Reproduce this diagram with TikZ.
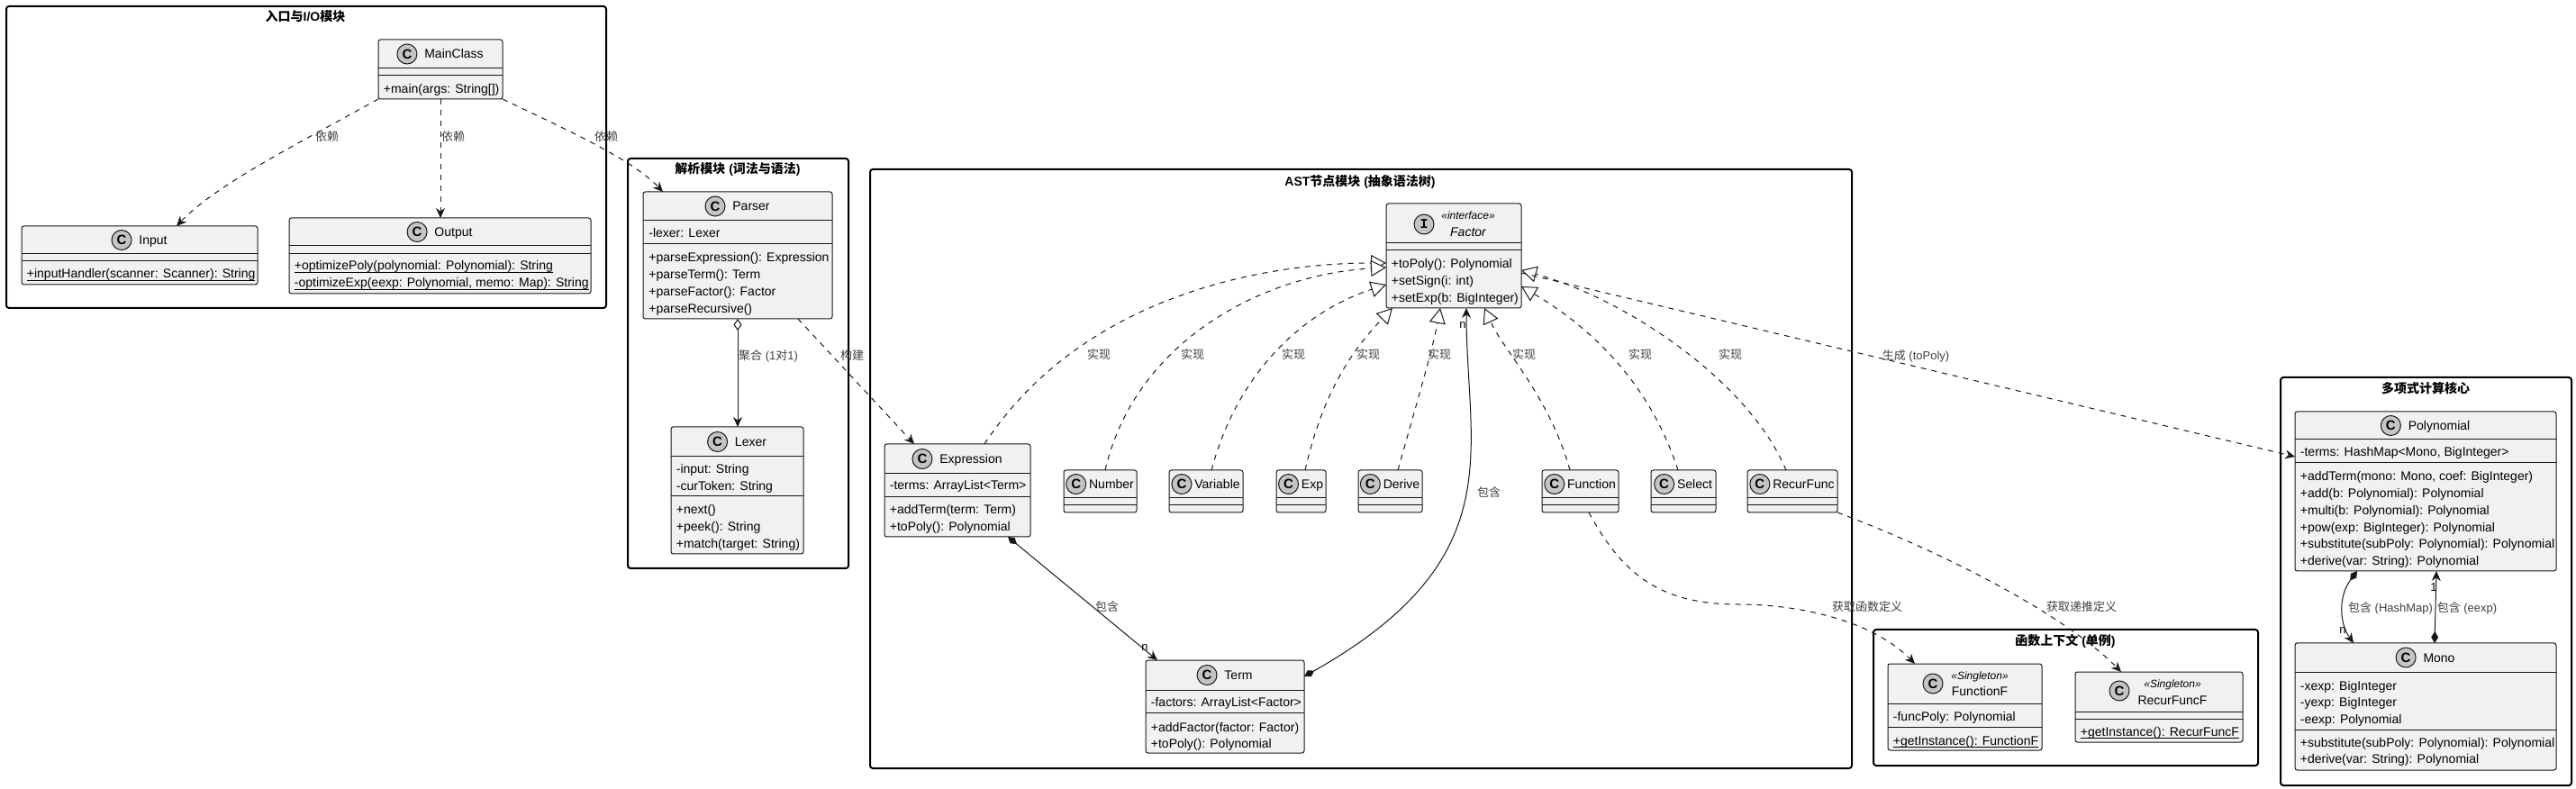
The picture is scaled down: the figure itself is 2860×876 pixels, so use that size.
\documentclass[tikz,border=0pt]{standalone}
\usepackage{fontspec}
\setmainfont{Liberation Sans}
\newfontfamily\cjk{Noto Sans CJK SC}
\newfontfamily\monof{Liberation Mono}
\usetikzlibrary{arrows.meta,calc}
\definecolor{boxfill}{HTML}{F1F1F1}
\definecolor{boxline}{HTML}{181818}
\definecolor{iconfill}{HTML}{C4C4C4}
\definecolor{lblcol}{HTML}{404040}
\newcommand\zhs[1]{{\cjk #1}}
\newcommand\zhb[1]{{\cjk\bfseries #1}}
\newcommand\ulst[1]{\underline{\smash{#1}}}
\tikzset{
 classbox/.style={rectangle, draw=boxline, fill=boxfill, line width=0.5pt, rounded corners=1.25pt, inner sep=0pt, outer sep=0pt},
 sepline/.style={draw=boxline, line width=0.5pt},
 member/.style={anchor=base west, inner sep=0pt, font=\fontsize{7}{9}\selectfont},
 cname/.style={inner sep=0pt, font=\fontsize{7}{9}\selectfont, text height=5pt, text depth=0pt},
 stereo/.style={inner sep=0pt, font=\fontsize{6}{7}\selectfont\itshape, text height=4.3pt, text depth=0pt},
 iconnode/.style={circle, draw=boxline, fill=iconfill, line width=0.5pt, minimum size=11pt, inner sep=0pt, font=\fontsize{7.5}{8}\selectfont\bfseries},
 pkgbox/.style={rectangle, draw=black, line width=1pt, rounded corners=1.5pt, inner sep=0pt, outer sep=0pt},
 ptitle/.style={inner sep=0pt, font=\fontsize{7}{9}\selectfont\bfseries, text height=5pt, text depth=0pt},
 elabel/.style={inner sep=0pt, font=\fontsize{6.5}{8}\selectfont, text=lblcol, text height=4.6pt, text depth=0pt},
 mult/.style={inner sep=0pt, font=\fontsize{6.5}{8}\selectfont, text height=4.6pt, text depth=0pt},
 conn/.style={draw=boxline, line width=0.5pt},
 dashedconn/.style={conn, dash pattern=on 3pt off 3pt},
 deparrow/.style={dashedconn, arrows={-Stealth[length=5.5pt,width=5pt,inset=1.8pt]}},
 realarrow/.style={dashedconn, arrows={-Triangle[open,length=8.5pt,width=9pt,fill=white]}},
 comparrow/.style={conn, arrows={Diamond[length=6.5pt,width=4pt]-Stealth[length=5.5pt,width=5pt,inset=1.8pt]}},
 aggarrow/.style={conn, arrows={Diamond[open,length=6.5pt,width=4.5pt,fill=white]-Stealth[length=5.5pt,width=5pt,inset=1.8pt]}},
}
% id l t r headerbottom sep bottom
\newcommand\umlbox[7]{%
 \node[classbox, minimum width={(#4-#2)*0.5pt}, minimum height={(#7-#3)*0.5pt}] (#1) at ({(#2+#4)/2},{(#3+#7)/2}) {};
 \draw[sepline] (#2,#5) -- (#4,#5);
 \draw[sepline] (#2,#6) -- (#4,#6);
}
% id cx cy text gap letter
\newcommand\umlhead[6]{%
 \node[cname] (#1-name) at ({#2+(22+#5)/2},#3) {#4};
 \node[iconnode] (#1-icon) at ($(#1-name.west)+({-(#5+11)},0)$) {#6};
}
% idprefix x firstbaseline list
\newcommand\members[4]{%
 \foreach \mtext [count=\k] in {#4} {\node[member] (#1\k) at ({#2},{#3+(\k-1)*18.7}) {\mtext};}
}
\newcommand\pkg[5]{%
 \node[pkgbox, minimum width={(#4-#2)*0.5pt}, minimum height={(#5-#3)*0.5pt}] (#1) at ({(#2+#4)/2},{(#3+#5)/2}) {};
}
\begin{document}
\begin{tikzpicture}[x=0.5pt,y=-0.5pt]
\fill[white] (0,0) rectangle (2860,876);
\useasboundingbox (0,0) rectangle (2860,876);

% ---------- packages ----------
\pkg{pkgio}{7}{7}{673}{342}
\node[ptitle] (pkgio-t) at (339,19) {\zhb{入口与}I/O\zhb{模块}};
\pkg{pkgparse}{697}{176}{942}{631}
\node[ptitle] (pkgparse-t) at (819,188) {\zhb{解析模块} (\zhb{词法与语法})};
\pkg{pkgast}{966}{188}{2056}{853}
\node[ptitle] (pkgast-t) at (1510,202) {AST\zhb{节点模块} (\zhb{抽象语法树})};
\pkg{pkgfunc}{2080}{699}{2507}{850}
\node[ptitle] (pkgfunc-t) at (2293,712) {\zhb{函数上下文} (\zhb{单例})};
\pkg{pkgpoly}{2532}{419}{2855}{872}
\node[ptitle] (pkgpoly-t) at (2693,432) {\zhb{多项式计算核心}};

% ---------- IO classes ----------
\umlbox{mainclass}{420}{44}{558}{76}{84}{110}
\umlhead{mainclass}{489}{60}{MainClass}{8}{C}
\members{mainclass-m}{425.5}{104}{{+main(args: String[])}}

\umlbox{input}{24}{251}{286}{282}{290}{316}
\umlhead{input}{155}{266.5}{Input}{8}{C}
\members{input-m}{29.5}{309}{{\ulst{+inputHandler(scanner: Scanner): String}}}

\umlbox{output}{321}{242}{656}{273}{282}{326}
\umlhead{output}{488.5}{257.5}{Output}{8}{C}
\members{output-m}{326.5}{300}{{\ulst{+optimizePoly(polynomial: Polynomial): String}},{\ulst{-optimizeExp(eexp: Polynomial, memo: Map): String}}}

% ---------- parser classes ----------
\umlbox{parser}{714}{213}{924}{245}{271}{354}
\umlhead{parser}{819}{229}{Parser}{8}{C}
\members{parser-a}{720}{264}{{-lexer: Lexer}}
\members{parser-m}{720}{291}{{+parseExpression(): Expression},{+parseTerm(): Term},{+parseFactor(): Factor},{+parseRecursive()}}

\umlbox{lexer}{745}{474}{892}{507}{551}{615}
\umlhead{lexer}{818.5}{490.5}{Lexer}{8}{C}
\members{lexer-a}{750.5}{526}{{-input: String},{-curToken: String}}
\members{lexer-m}{750.5}{571}{{+next()},{+peek(): String},{+match(target: String)}}

% ---------- AST classes ----------
\umlbox{factor}{1539}{226}{1689}{270}{278}{342}
\node[iconnode, font=\fontsize{7.5}{8}\selectfont\monof\bfseries] (factor-icon) at (1581,249) {I};
\node[stereo] (factor-st) at (1630,239) {«interface»};
\node[cname, font=\fontsize{7}{9}\selectfont\itshape] (factor-name) at (1630,258) {Factor};
\members{factor-m}{1544.5}{298}{{+toPoly(): Polynomial},{+setSign(i: int)},{+setExp(b: BigInteger)}}

\umlbox{expression}{982}{493}{1144}{526}{552}{596}
\umlhead{expression}{1063}{509.5}{Expression}{8}{C}
\members{expression-a}{987.5}{544}{{-terms: ArrayList<Term>}}
\members{expression-m}{987.5}{571}{{+addTerm(term: Term)},{+toPoly(): Polynomial}}

\umlbox{number}{1181}{522}{1262}{553}{561}{569}
\umlhead{number}{1221.5}{537.5}{Number}{3}{C}
\umlbox{variable}{1298}{522}{1380}{553}{561}{569}
\umlhead{variable}{1339}{537.5}{Variable}{3}{C}
\umlbox{exp}{1417}{522}{1472}{553}{561}{569}
\umlhead{exp}{1444.5}{537.5}{Exp}{3}{C}
\umlbox{derive}{1508}{522}{1579}{553}{561}{569}
\umlhead{derive}{1543.5}{537.5}{Derive}{3}{C}
\umlbox{function}{1712}{522}{1797}{553}{561}{569}
\umlhead{function}{1754.5}{537.5}{Function}{3}{C}
\umlbox{select}{1833}{522}{1905}{553}{561}{569}
\umlhead{select}{1869}{537.5}{Select}{3}{C}
\umlbox{recurfunc}{1940}{522}{2040}{553}{561}{569}
\umlhead{recurfunc}{1990}{537.5}{RecurFunc}{3}{C}

\umlbox{term}{1272}{733}{1448}{766}{791}{836}
\umlhead{term}{1360}{749.5}{Term}{8}{C}
\members{term-a}{1277.5}{784}{{-factors: ArrayList<Factor>}}
\members{term-m}{1277.5}{812}{{+addFactor(factor: Factor)},{+toPoly(): Polynomial}}

% ---------- singletons ----------
\umlbox{functionf}{2096}{737}{2267}{781}{807}{833}
\node[iconnode] (functionf-icon) at (2146,759) {C};
\node[stereo] (functionf-st) at (2198,750) {«Singleton»};
\node[cname] (functionf-name) at (2198,767) {FunctionF};
\members{functionf-a}{2101.5}{800}{{-funcPoly: Polynomial}}
\members{functionf-m}{2101.5}{827}{{\ulst{+getInstance(): FunctionF}}}

\umlbox{recurfuncf}{2304}{746}{2490}{790}{798}{824}
\node[iconnode] (recurfuncf-icon) at (2353,767) {C};
\node[stereo] (recurfuncf-st) at (2412,759) {«Singleton»};
\node[cname] (recurfuncf-name) at (2412,777) {RecurFuncF};
\members{recurfuncf-m}{2309.5}{817}{{\ulst{+getInstance(): RecurFuncF}}}

% ---------- polynomial core ----------
\umlbox{polynomial}{2548}{457}{2838}{488}{514}{634}
\umlhead{polynomial}{2693}{472.5}{Polynomial}{8}{C}
\members{polynomial-a}{2553.5}{507}{{-terms: HashMap<Mono, BigInteger>}}
\members{polynomial-m}{2553.5}{534}{{+addTerm(mono: Mono, coef: BigInteger)},{+add(b: Polynomial): Polynomial},{+multi(b: Polynomial): Polynomial},{+pow(exp: BigInteger): Polynomial},{+substitute(subPoly: Polynomial): Polynomial},{+derive(var: String): Polynomial}}

\umlbox{mono}{2548}{714}{2838}{746}{810}{855}
\umlhead{mono}{2693}{730}{Mono}{8}{C}
\members{mono-a}{2553.5}{766}{{-xexp: BigInteger},{-yexp: BigInteger},{-eexp: Polynomial}}
\members{mono-m}{2553.5}{829}{{+substitute(subPoly: Polynomial): Polynomial},{+derive(var: String): Polynomial}}

% ---------- connectors ----------
\draw[deparrow] (mainclass.south west) .. controls (330,160) and (240,205) .. ($(input.north west)+(172,0)$);
\draw[deparrow] (mainclass.south) -- (mainclass.south |- output.north);
\draw[deparrow] (mainclass.south east) .. controls (620,140) and (700,175) .. ($(parser.north west)+(22,0)$);
\draw[aggarrow] (parser.south) -- (parser.south |- lexer.north);
\draw[deparrow] ($(parser.south west)+(172,0)$) -- ($(expression.north west)+(33,0)$);

\draw[realarrow] ($(expression.north west)+(111,0)$) .. controls (1200,330) and (1400,292) .. ($(factor.north west)+(0,66)$);
\draw[realarrow] ($(number.north west)+(46,0)$) .. controls (1260,380) and (1400,305) .. ($(factor.north west)+(0,71)$);
\draw[realarrow] ($(variable.north west)+(47,0)$) .. controls (1375,410) and (1450,345) .. ($(factor.north west)+(0,90)$);
\draw[realarrow] ($(exp.north west)+(32,0)$) .. controls (1470,430) and (1505,385) .. ($(factor.south west)+(7,0)$);
\draw[realarrow] ($(derive.north west)+(44,0)$) .. controls (1575,440) and (1590,390) .. ($(factor.south west)+(60,0)$);
\draw[realarrow] ($(function.north west)+(31,0)$) .. controls (1720,440) and (1670,390) .. ($(factor.south west)+(109,0)$);
\draw[realarrow] ($(select.north west)+(30,0)$) .. controls (1830,420) and (1760,360) .. ($(factor.north east)+(0,92)$);
\draw[realarrow] ($(recurfunc.north west)+(43,0)$) .. controls (1940,420) and (1800,330) .. ($(factor.north east)+(0,74)$);

\draw[deparrow] ($(factor.north east)+(0,77)$) -- ($(polynomial.north west)+(0,50)$);

\draw[comparrow] ($(expression.south west)+(137,0)$) -- ($(term.north west)+(13,0)$);
\draw[comparrow] ($(term.north east)+(0,18)$) .. controls (1680,620) and (1628,500) .. ($(factor.south west)+(89,0)$);

\draw[deparrow] ($(function.south west)+(52,0)$) .. controls (1800,635) and (1840,671) .. (1930,671) .. controls (2000,671) and (2080,690) .. ($(functionf.north west)+(30,0)$);
\draw[deparrow] (recurfunc.south east) .. controls (2150,610) and (2290,680) .. ($(recurfuncf.north west)+(51,0)$);

\draw[comparrow] ($(polynomial.south west)+(69,0)$) .. controls (2596,662) and (2597,692) .. ($(mono.north west)+(65,0)$);
\draw[comparrow] ($(mono.north west)+(155,0)$) -- ($(polynomial.south west)+(157,0)$);

% ---------- connector labels ----------
\node[elabel] (lb-dep1) at (363,152) {\zhs{依赖}};
\node[elabel] (lb-dep2) at (503,152) {\zhs{依赖}};
\node[elabel] (lb-dep3) at (673,152) {\zhs{依赖}};
\node[elabel] (lb-agg) at (853,395) {\zhs{聚合} (1\zhs{对}1)};
\node[elabel] (lb-build) at (946,395) {\zhs{构建}};
\foreach \lx [count=\j] in {1220,1324,1436,1519,1598,1692,1821,1921}
  {\node[elabel] (lb-impl\j) at (\lx,394) {\zhs{实现}};}
\node[elabel] (lb-cont1) at (1653,547) {\zhs{包含}};
\node[elabel] (lb-cont2) at (1229,674) {\zhs{包含}};
\node[mult] (mu-1) at (1271,718) {n};
\node[mult] (mu-2) at (1624,360) {n};
\node[elabel] (lb-gen) at (2127,395) {\zhs{生成} (toPoly)};
\node[elabel] (lb-getf) at (2073,674) {\zhs{获取函数定义}};
\node[elabel] (lb-getr) at (2311,674) {\zhs{获取递推定义}};
\node[elabel] (lb-hash) at (2654,675) {\zhs{包含} (HashMap)};
\node[mult] (mu-3) at (2601,699) {n};
\node[elabel] (lb-eexp) at (2739,675) {\zhs{包含} (eexp)};
\node[mult] (mu-4) at (2702,652) {1};
\end{tikzpicture}
\end{document}
